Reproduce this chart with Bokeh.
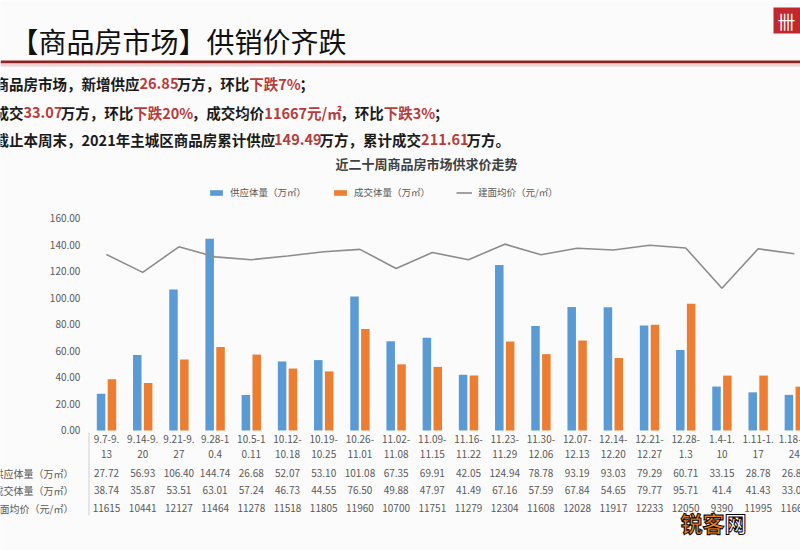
from bokeh.plotting import figure
from bokeh.models import (Range1d, Label, BoxAnnotation, Legend, LegendItem,
                          ColumnDataSource)
from bokeh.transform import dodge
from bokeh.core.properties import value
from bokeh.embed import file_html
from bokeh.resources import INLINE

# ---- data: last twenty weeks of the new-home market ----
week_top = ["9.7-9.", "9.14-9.", "9.21-9.", "9.28-1", "10.5-1", "10.12-", "10.19-",
            "10.26-", "11.02-", "11.09-", "11.16-", "11.23-", "11.30-", "12.07-",
            "12.14-", "12.21-", "12.28-", "1.4-1.", "1.11-1.", "1.18-1."]
week_bottom = ["13", "20", "27", "0.4", "0.11", "10.18", "10.25", "11.01", "11.08",
               "11.15", "11.22", "11.29", "12.06", "12.13", "12.20", "12.27", "1.3",
               "10", "17", "24"]
supply = [27.72, 56.93, 106.40, 144.74, 26.68, 52.07, 53.10, 101.08, 67.35, 69.91,
          42.05, 124.94, 78.78, 93.19, 93.03, 79.29, 60.71, 33.15, 28.78, 26.85]
deal = [38.74, 35.87, 53.51, 63.01, 57.24, 46.73, 44.55, 76.50, 49.88, 47.97,
        41.49, 67.16, 57.59, 67.84, 54.65, 79.77, 95.71, 41.4, 41.43, 33.07]
price = [11615, 10441, 12127, 11464, 11278, 11518, 11805, 11960, 10700, 11751,
         11279, 12304, 11608, 12028, 11917, 12233, 12050, 9390, 11995, 11667]
supply_txt = ["27.72", "56.93", "106.40", "144.74", "26.68", "52.07", "53.10", "101.08",
              "67.35", "69.91", "42.05", "124.94", "78.78", "93.19", "93.03", "79.29",
              "60.71", "33.15", "28.78", "26.85"]
deal_txt = ["38.74", "35.87", "53.51", "63.01", "57.24", "46.73", "44.55", "76.50",
            "49.88", "47.97", "41.49", "67.16", "57.59", "67.84", "54.65", "79.77",
            "95.71", "41.4", "41.43", "33.07"]
row_names = ["供应体量（万㎡）", "成交体量（万㎡）", "建面均价（元/㎡）"]
y_ticks = [0, 20, 40, 60, 80, 100, 120, 140, 160]
y_tick_labels = ["0.00", "20.00", "40.00", "60.00", "80.00", "100.00", "120.00",
                 "140.00", "160.00"]

FONT = "Noto Sans CJK SC"
W, H = 800, 550
BLUE, ORANGE, GREY = "#5b9bd5", "#ed7d31", "#8c8c8c"
DARK, RED = "#1a1a1a", "#b83b3b"
TXT = "#595959"
BG = "#fbfbfb"
X0 = -0.5            # left edge of the plotting area, in category units

idx = list(range(len(supply)))
src = ColumnDataSource(dict(
    x=idx, supply=supply, deal=deal, price=price,
    top=week_top, bottom=week_bottom,
    s_txt=supply_txt, d_txt=deal_txt, p_txt=[str(v) for v in price],
))
tick_src = ColumnDataSource(dict(y=y_ticks, label=y_tick_labels))

p = figure(width=W, height=H, output_backend="svg", toolbar_location=None,
           x_range=Range1d(-2.928, 19.17), y_range=Range1d(-90.6, 324.5),
           x_axis_location=None, y_axis_location=None,
           min_border=0,
           background_fill_color=BG, border_fill_color=BG, outline_line_color=None)
p.grid.visible = False
p.extra_y_ranges = {"price": Range1d(-90.6 * 87.5, 324.5 * 87.5)}

# value scale labels on the left of the plotting area
p.text(x=X0, y="y", text="label", source=tick_src, x_offset=-8,
       text_font=value(FONT), text_font_size="10px", text_color=TXT,
       text_align="right", text_baseline="middle")

# bars and price line
r_sup = p.vbar(x=dodge("x", -0.15, range=p.x_range), top="supply", width=0.235,
               source=src, fill_color=BLUE, line_color=None)
r_deal = p.vbar(x=dodge("x", 0.15, range=p.x_range), top="deal", width=0.235,
                source=src, fill_color=ORANGE, line_color=None)
r_price = p.line(x="x", y="price", source=src, y_range_name="price",
                 line_color=GREY, line_width=1.6)

# category labels and data table under the plot
tab = dict(source=src, text_font=value(FONT), text_font_size="10px",
           text_color=TXT, text_align="center", text_baseline="middle")
p.text(x="x", y=0, text="top", y_offset=9, **tab)
p.text(x="x", y=0, text="bottom", y_offset=24, **tab)
p.text(x="x", y=0, text="s_txt", y_offset=43, **tab)
p.text(x="x", y=0, text="d_txt", y_offset=60, **tab)
p.text(x="x", y=0, text="p_txt", y_offset=78, **tab)

for name, ytop in zip(row_names, [473, 490, 508]):
    p.add_layout(Label(x=73, y=H - ytop, x_units="screen", y_units="screen",
                       text=name, text_font=FONT, text_font_size="10px",
                       text_color=TXT, text_align="right", text_baseline="middle"))

p.add_layout(BoxAnnotation(left=88, right=89, top=H - 432, bottom=H - 515,
                           left_units="screen", right_units="screen",
                           top_units="screen", bottom_units="screen",
                           fill_color="#d0d0d0", fill_alpha=1, line_color=None))

# legend
legend = Legend(items=[LegendItem(label=row_names[0], renderers=[r_sup]),
                       LegendItem(label=row_names[1], renderers=[r_deal]),
                       LegendItem(label=row_names[2], renderers=[r_price])],
                orientation="horizontal", location=(208, H - 199),
                background_fill_alpha=0, border_line_color=None,
                label_text_font=FONT, label_text_font_size="9.5px",
                label_text_color=TXT, glyph_width=16, glyph_height=7,
                spacing=26, padding=0, margin=0, label_standoff=6)
p.add_layout(legend)

# chart title
p.add_layout(Label(x=426, y=H - 163, x_units="screen", y_units="screen",
                   text="近二十周商品房市场供求价走势", text_font=FONT,
                   text_font_size="13px", text_font_style="bold", text_color="#404040",
                   text_align="center", text_baseline="middle"))

# page header
p.add_layout(Label(x=10, y=H - 40, x_units="screen", y_units="screen",
                   text="【商品房市场】供销价齐跌", text_font=FONT,
                   text_font_size="28px", text_color="#111111",
                   text_align="left", text_baseline="middle"))
p.add_layout(BoxAnnotation(left=0, right=W, top=H - 60, bottom=H - 63,
                           left_units="screen", right_units="screen",
                           top_units="screen", bottom_units="screen",
                           fill_color="#8b2323", fill_alpha=1, line_color=None))
p.add_layout(BoxAnnotation(left=0, right=W, top=H - 63, bottom=H - 66,
                           left_units="screen", right_units="screen",
                           top_units="screen", bottom_units="screen",
                           fill_color="#ecd2d2", fill_alpha=1, line_color=None))
p.add_layout(BoxAnnotation(left=773, right=W, top=H - 7, bottom=H - 33,
                           left_units="screen", right_units="screen",
                           top_units="screen", bottom_units="screen",
                           fill_color="#c0282d", fill_alpha=1, line_color=None))
p.add_layout(Label(x=786, y=H - 20, x_units="screen", y_units="screen",
                   text="卌", text_font=FONT, text_font_size="18px",
                   text_color="white", text_align="center", text_baseline="middle"))


def char_w(c, fs):
    if ord(c) > 0x2E80:
        return fs
    if c in ".,":
        return 0.29 * fs
    if c == "%":
        return 0.9 * fs
    if c == "/":
        return 0.38 * fs
    return 0.57 * fs


def rich_line(segments, x0, ytop, fs=14.5):
    x = x0
    for txt, col in segments:
        p.add_layout(Label(x=x, y=H - ytop, x_units="screen", y_units="screen",
                           text=txt, text_font=FONT, text_font_size=f"{fs}px",
                           text_font_style="bold", text_color=col,
                           text_align="left", text_baseline="middle"))
        x += sum(char_w(c, fs) for c in txt)


rich_line([("商品房市场，新增供应", DARK), ("26.85", RED), ("万方，环比", DARK),
           ("下跌7%", RED), ("；", DARK)], -6, 83)
rich_line([("成交", DARK), ("33.07", RED), ("万方，环比", DARK), ("下跌20%", RED),
           ("，成交均价", DARK), ("11667元/㎡", RED), ("，环比", DARK),
           ("下跌3%", RED), ("；", DARK)], -6, 112)
rich_line([("截止本周末，2021年主城区商品房累计供应", DARK), ("149.49", RED),
           ("万方，累计成交", DARK), ("211.61", RED), ("万方。", DARK)], -6, 139)

# site mark in the corner
p.add_layout(Label(x=680, y=H - 521, x_units="screen", y_units="screen",
                   text="锐客", text_font=FONT, text_font_size="22px",
                   text_font_style="bold", text_color="#f07f1a",
                   text_outline_color="black",
                   text_align="left", text_baseline="middle"))
p.add_layout(Label(x=724, y=H - 521, x_units="screen", y_units="screen",
                   text="网", text_font=FONT, text_font_size="22px",
                   text_font_style="bold", text_color="white",
                   text_outline_color="black",
                   text_align="left", text_baseline="middle"))

open("out.html", "w").write(file_html(p, INLINE))
